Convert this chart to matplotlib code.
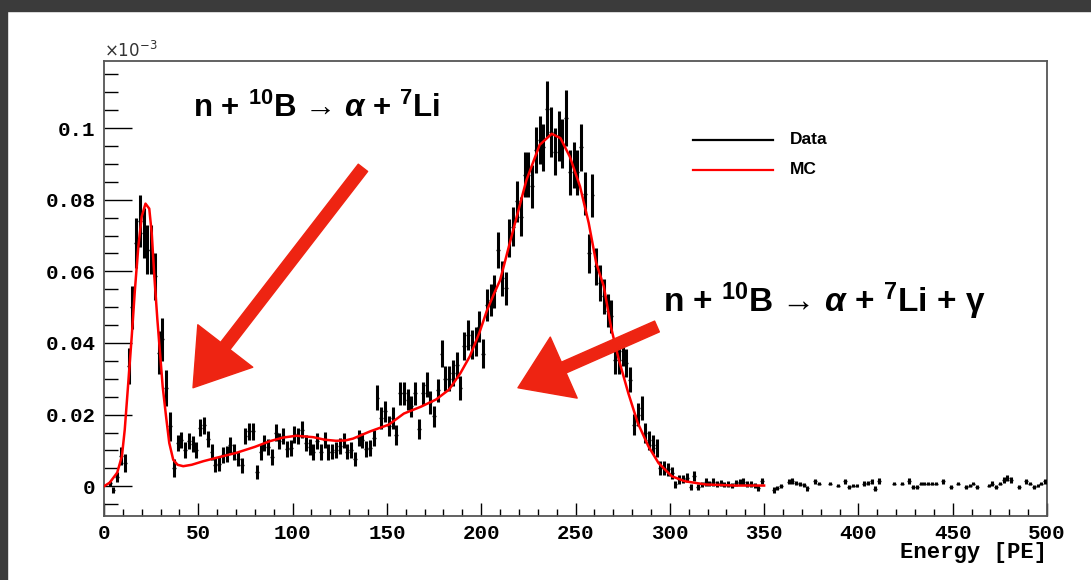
import numpy as np
import matplotlib
matplotlib.use("Agg")
import matplotlib.pyplot as plt
from matplotlib.ticker import MultipleLocator, FuncFormatter
from matplotlib.patches import FancyArrowPatch, Rectangle, ArrowStyle

nan = np.nan

# data histogram, 2 PE bins (centres 1, 3, 5, ... 499), units of 1e-3
bin_width = 2
counts = [
    nan, 0.0008, -0.0010, 0.0026, 0.0084, 0.0066, 0.0335, 0.0500, 0.0680, 0.0740,   # 1-19
    0.0707, 0.0660, 0.0660, 0.0586, 0.0373, 0.0410, 0.0275, 0.0167, 0.0050, 0.0120,  # 21-39
    0.0130, 0.0102, 0.0126, 0.0118, 0.0102, 0.0163, 0.0170, 0.0132, 0.0095, 0.0060,  # 41-59
    0.0062, 0.0088, 0.0090, 0.0116, 0.0096, 0.0077, 0.0058, 0.0140, 0.0154, 0.0154,  # 61-79
    0.0039, 0.0095, 0.0120, 0.0110, 0.0081, 0.0149, 0.0126, 0.0140, 0.0104, 0.0106,  # 81-99
    0.0145, 0.0140, 0.0158, 0.0120, 0.0110, 0.0095, 0.0126, 0.0095, 0.0130, 0.0095,  # 101-119
    0.0097, 0.0102, 0.0113, 0.0128, 0.0097, 0.0102, 0.0076, 0.0134, 0.0128, 0.0104,  # 121-139
    0.0106, 0.0134, 0.0247, 0.0190, 0.0209, 0.0167, 0.0190, 0.0144, 0.0260, 0.0260,  # 141-159
    0.0242, 0.0223, 0.0259, 0.0160, 0.0260, 0.0284, 0.0234, 0.0195, 0.0268, 0.0370,  # 161-179
    0.0300, 0.0300, 0.0316, 0.0338, 0.0274, 0.0392, 0.0423, 0.0395, 0.0404, 0.0446,  # 181-199
    0.0370, 0.0505, 0.0520, 0.0544, 0.0660, 0.0580, 0.0553, 0.0693, 0.0725, 0.0795,  # 201-219
    0.0753, 0.0870, 0.0870, 0.0837, 0.0939, 0.0967, 0.0946, 0.1053, 0.0990, 0.0934,  # 221-239
    0.0978, 0.0956, 0.1028, 0.0876, 0.0897, 0.0876, 0.0946, 0.0816, 0.0650, 0.0812,  # 241-259
    0.0614, 0.0568, 0.0530, 0.0490, 0.0474, 0.0353, 0.0353, 0.0377, 0.0344, 0.0298,  # 261-279
    0.0172, 0.0200, 0.0219, 0.0149, 0.0128, 0.0116, 0.0108, 0.0051, 0.0051, 0.0047,  # 281-299
    0.0037, 0.0005, 0.0019, 0.0020, 0.0024, -0.0002, 0.0030, -0.0002, 0.0005, 0.0012,  # 301-319
    0.0008, 0.0012, 0.0006, 0.0009, 0.0004, 0.0006, 0.0002, 0.0009, 0.0012, 0.0013,  # 321-339
    0.0006, 0.0006, 0.0003, -0.0005, 0.0014, nan, nan, -0.0010, -0.0005, 0.0001,      # 341-359
    nan, 0.0012, 0.0014, 0.0010, 0.0006, 0.0003, -0.0006, nan, 0.0014, 0.00075,       # 361-379
    nan, nan, 0.00075, nan, 0.0002, nan, 0.0014, -0.0002, 0.0002, 0.0002,             # 381-399
    nan, 0.00075, 0.0010, 0.0014, -0.0007, 0.0014, nan, nan, nan, 0.00075,            # 401-419
    nan, 0.00075, nan, 0.0014, -0.0002, -0.0002, 0.00075, 0.00075, 0.00075, 0.00075,  # 421-439
    0.00075, nan, 0.0014, nan, -0.0002, nan, 0.00075, nan, -0.0002, 0.0002,           # 441-459
    0.00075, -0.0002, nan, nan, 0.0002, 0.00075, -0.0002, 0.00075, 0.0017, 0.0023,    # 461-479
    0.0017, nan, -0.0002, nan, 0.0014, 0.00075, -0.0002, 0.0002, 0.00075, 0.0014,     # 481-499
]
errors = [
    nan, 0.0008, 0.0008, 0.0015, 0.0025, 0.0025, 0.0050, 0.0060, 0.0070, 0.0072,
    0.0070, 0.0068, 0.0068, 0.0065, 0.0060, 0.0060, 0.0050, 0.0040, 0.0025, 0.0022,
    0.0022, 0.0022, 0.0022, 0.0022, 0.0022, 0.0024, 0.0024, 0.0022, 0.0022, 0.0020,
    0.0020, 0.0022, 0.0022, 0.0022, 0.0022, 0.0020, 0.0020, 0.0022, 0.0024, 0.0024,
    0.0020, 0.0022, 0.0022, 0.0022, 0.0022, 0.0024, 0.0022, 0.0022, 0.0022, 0.0022,
    0.0024, 0.0022, 0.0024, 0.0022, 0.0022, 0.0022, 0.0022, 0.0022, 0.0022, 0.0022,
    0.0022, 0.0022, 0.0022, 0.0022, 0.0022, 0.0022, 0.0020, 0.0022, 0.0022, 0.0022,
    0.0022, 0.0022, 0.0035, 0.0030, 0.0030, 0.0028, 0.0030, 0.0028, 0.0032, 0.0032,
    0.0030, 0.0030, 0.0032, 0.0028, 0.0032, 0.0034, 0.0032, 0.0030, 0.0032, 0.0038,
    0.0035, 0.0035, 0.0036, 0.0036, 0.0034, 0.0040, 0.0042, 0.0040, 0.0040, 0.0042,
    0.0040, 0.0045, 0.0045, 0.0046, 0.0050, 0.0048, 0.0046, 0.0052, 0.0054, 0.0058,
    0.0055, 0.0062, 0.0062, 0.0060, 0.0065, 0.0068, 0.0066, 0.0078, 0.0070, 0.0066,
    0.0070, 0.0068, 0.0078, 0.0062, 0.0064, 0.0062, 0.0066, 0.0060, 0.0055, 0.0060,
    0.0052, 0.0050, 0.0048, 0.0046, 0.0046, 0.0040, 0.0040, 0.0042, 0.0040, 0.0036,
    0.0030, 0.0032, 0.0034, 0.0028, 0.0026, 0.0026, 0.0025, 0.0020, 0.0020, 0.0018,
    0.0018, 0.0010, 0.0012, 0.0012, 0.0012, 0.0008, 0.0014, 0.0008, 0.0008, 0.0010,
    0.0008, 0.0010, 0.0008, 0.0008, 0.0007, 0.0008, 0.0006, 0.0008, 0.0009, 0.0009,
    0.0008, 0.0008, 0.0007, 0.0008, 0.0009, nan, nan, 0.0008, 0.0006, 0.0005,
    nan, 0.0007, 0.0008, 0.0006, 0.0005, 0.0005, 0.0006, nan, 0.0007, 0.0005,
    nan, nan, 0.0005, nan, 0.0005, nan, 0.0007, 0.0005, 0.0005, 0.0005,
    nan, 0.0006, 0.0006, 0.0007, 0.0007, 0.0008, nan, nan, nan, 0.0005,
    nan, 0.0005, nan, 0.0008, 0.0005, 0.0005, 0.0005, 0.0005, 0.0005, 0.0005,
    0.0005, nan, 0.0007, nan, 0.0005, nan, 0.0005, nan, 0.0005, 0.0005,
    0.0005, 0.0005, nan, nan, 0.0005, 0.0006, 0.0005, 0.0005, 0.0008, 0.0009,
    0.0008, nan, 0.0005, nan, 0.0007, 0.0005, 0.0005, 0.0005, 0.0005, 0.0007,
]

# MC curve
mc_x = [0, 3, 7, 9.5, 11, 13, 14.7, 16.4, 18.2, 20, 22, 24, 25.3, 26.7, 28.3, 29.7,
        31.1, 32.9, 34.6, 36.7, 39, 42, 46.5, 52.7, 60, 70, 80, 88, 95, 102, 111,
        117, 123, 128, 132, 141, 151, 159, 168, 176, 183, 189, 194, 199, 203, 207,
        210, 217, 224, 231, 237.4, 242, 247, 252.4, 257, 261, 265, 269, 273, 278,
        283, 288.6, 294, 301, 308, 319, 335, 350]
mc_y = [0.0, 0.001, 0.0038, 0.0084, 0.0158, 0.0298, 0.0418, 0.0549, 0.0669, 0.0753,
        0.0789, 0.0775, 0.0707, 0.0586, 0.0465, 0.0373, 0.0279, 0.0195, 0.0121, 0.0074,
        0.006, 0.0056, 0.006, 0.007, 0.008, 0.0093, 0.011, 0.0126, 0.0136, 0.0141,
        0.0137, 0.013, 0.0127, 0.0128, 0.0133, 0.0153, 0.0172, 0.0203, 0.0222, 0.0242,
        0.027, 0.0316, 0.0363, 0.0428, 0.049, 0.054, 0.0575, 0.0716, 0.0855, 0.0953,
        0.0984, 0.0972, 0.092, 0.0837, 0.0735, 0.0623, 0.0558, 0.044, 0.0353, 0.026,
        0.0177, 0.0112, 0.0065, 0.0028, 0.0014, 0.0005, 0.0002, 0.0002]

label_1 = r"n + $^{10}$B → $\alpha$ + $^{7}$Li"
label_2 = r"n + $^{10}$B → $\alpha$ + $^{7}$Li + γ"

plt.rcParams['mathtext.fontset'] = 'custom'
plt.rcParams['mathtext.rm'] = 'Liberation Sans:bold'
plt.rcParams['mathtext.bf'] = 'Liberation Sans:bold'
plt.rcParams['mathtext.it'] = 'Liberation Sans:bold:italic'

W, H = 1091, 580
fig = plt.figure(figsize=(W / 100, H / 100), dpi=100, facecolor='white')
ax = fig.add_axes([104 / W, 1 - 516 / H, (1047 - 104) / W, (516 - 60.7) / H])

# dark frame strips (screenshot border)
fig.patches.append(Rectangle((0, 1 - 11 / H), 1, 11 / H, transform=fig.transFigure,
                             color='#3b3b3b', zorder=0))
fig.patches.append(Rectangle((0, 0), 7 / W, 1, transform=fig.transFigure,
                             color='#3b3b3b', zorder=0))

centers = np.arange(1, 500, bin_width)
counts = np.array(counts)
errors = np.array(errors)
ok = ~np.isnan(counts)
x = centers[ok]
y = counts[ok]
e = errors[ok]

ax.vlines(x, y - e, y + e, color='black', lw=2.2, zorder=3)
ax.hlines(y, x - bin_width / 2, x + bin_width / 2, color='black', lw=1.0, zorder=3)
ax.plot(mc_x, mc_y, color='red', lw=1.8, zorder=4)

ax.set_xlim(0, 500)
ax.set_ylim(-0.0083, 0.1188)

for s in ax.spines.values():
    s.set_color('#555555')
    s.set_linewidth(1.3)

ax.xaxis.set_major_locator(MultipleLocator(50))
ax.xaxis.set_minor_locator(MultipleLocator(10))
ax.yaxis.set_major_locator(MultipleLocator(0.02))
ax.yaxis.set_minor_locator(MultipleLocator(0.005))
ax.yaxis.set_major_formatter(FuncFormatter(lambda v, p: "%g" % round(v, 3)))
ax.xaxis.set_major_formatter(FuncFormatter(lambda v, p: "%d" % v))
ax.tick_params(axis='y', which='major', direction='in', length=20, width=1, pad=6)
ax.tick_params(axis='y', which='minor', direction='in', length=10, width=1)
ax.tick_params(axis='x', which='major', direction='in', length=9.5, width=1, pad=6)
ax.tick_params(axis='x', which='minor', direction='in', length=5, width=1)
for lab in ax.get_xticklabels() + ax.get_yticklabels():
    lab.set_fontfamily('Liberation Mono')
    lab.set_fontweight('bold')
    lab.set_fontsize(15)

fig.text(1047 / W, 1 - 558 / H, "Energy [PE]", ha='right', va='baseline',
         family='Liberation Mono', weight='bold', fontsize=16)
fig.text(104 / W, 1 - 57 / H, r"$\times10^{-3}$", ha='left', va='baseline',
         fontsize=12, color='#333333', math_fontfamily='dejavusans')

# legend drawn by hand
ax.plot([0.6246, 0.7094], [0.826, 0.826], color='black', lw=1.6, transform=ax.transAxes)
ax.plot([0.6246, 0.7094], [0.760, 0.760], color='red', lw=1.6, transform=ax.transAxes)
ax.text(0.7275, 0.826, "Data", transform=ax.transAxes, va='center',
        family='Liberation Sans', weight='bold', fontsize=12.5)
ax.text(0.7275, 0.760, "MC", transform=ax.transAxes, va='center',
        family='Liberation Sans', weight='bold', fontsize=12.5)

# reaction labels
fig.text(193 / W, 1 - 117 / H, label_1, ha='left', va='baseline',
         family=['Liberation Sans', 'DejaVu Sans'], weight='bold', fontsize=22.5)
fig.text(663 / W, 1 - 312 / H, label_2, ha='left', va='baseline',
         family=['Liberation Sans', 'DejaVu Sans'], weight='bold', fontsize=24)

# hand drawn red arrows
arrow_col = '#ee2412'
a1 = FancyArrowPatch((137.3, 0.0889), (47.2, 0.0275),
                     arrowstyle=ArrowStyle.Simple(head_length=3.8, head_width=5.0, tail_width=0.85),
                     mutation_scale=10, color=arrow_col, shrinkA=0, shrinkB=0, zorder=5)
a2 = FancyArrowPatch((293.2, 0.0446), (219.5, 0.0275),
                     arrowstyle=ArrowStyle.Simple(head_length=3.6, head_width=4.8, tail_width=0.85),
                     mutation_scale=10, color=arrow_col, shrinkA=0, shrinkB=0, zorder=5)
ax.add_patch(a1)
ax.add_patch(a2)

fig.savefig("out.png", dpi=100, facecolor='white')
